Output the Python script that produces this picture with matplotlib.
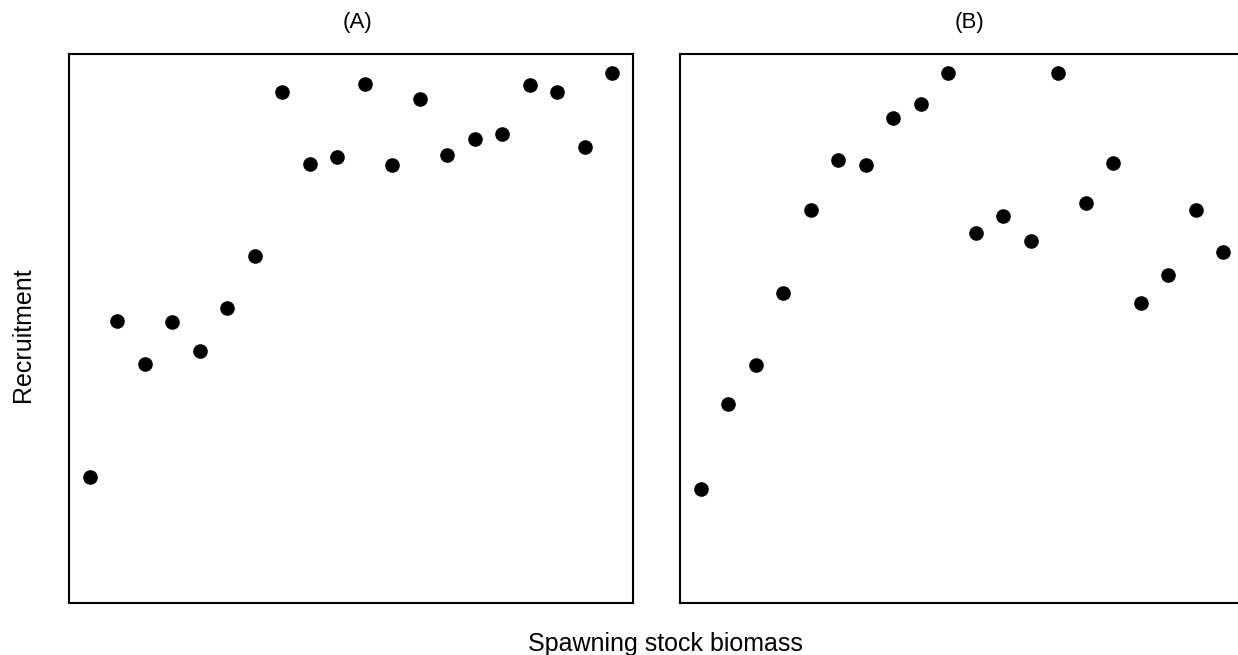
import matplotlib
matplotlib.use("Agg")
import matplotlib.pyplot as plt

plt.rcParams['font.family'] = ['Liberation Sans', 'DejaVu Sans']

years = list(range(1, 21))
recruit_a = [126, 282, 239, 281, 252, 295, 347, 511, 439, 446,
             519, 438, 504, 448, 464, 469, 518, 511, 456, 530]
recruit_b = [114, 199, 238, 310, 393, 443, 438, 485, 499, 530,
             370, 387, 362, 530, 400, 440, 300, 328, 393, 351]
titles = ["(A)", "(B)"]

W, H = 1238, 655
fig = plt.figure(figsize=(W / 100, H / 100), dpi=100)

def px_axes(left, top, right, bottom):
    return fig.add_axes([left / W, 1 - bottom / H, (right - left) / W, (bottom - top) / H])

ax_a = px_axes(69, 54, 633, 603)
ax_b = px_axes(680, 54, 1244, 603)

for ax, vals in [(ax_a, recruit_a), (ax_b, recruit_b)]:
    ax.plot(years, vals, 'o', color='black', markersize=9.5, linestyle='none')
    ax.set_xlim(0.24, 20.76)
    ax.set_ylim(0, 549)
    ax.set_xticks([])
    ax.set_yticks([])
    for s in ax.spines.values():
        s.set_linewidth(1.5)
        s.set_color('black')

fig.text(358 / W, 1 - 28.4 / H, titles[0], ha='center', va='baseline', fontsize=16)
fig.text(969 / W, 1 - 28.4 / H, titles[1], ha='center', va='baseline', fontsize=16)
fig.text(23 / W, 1 - 335 / H, "Recruitment", rotation=90, ha='center', va='center', fontsize=18)
fig.text(665 / W, 1 - 651 / H, "Spawning stock biomass", ha='center', va='baseline', fontsize=18)

fig.savefig("out.png", dpi=100)
